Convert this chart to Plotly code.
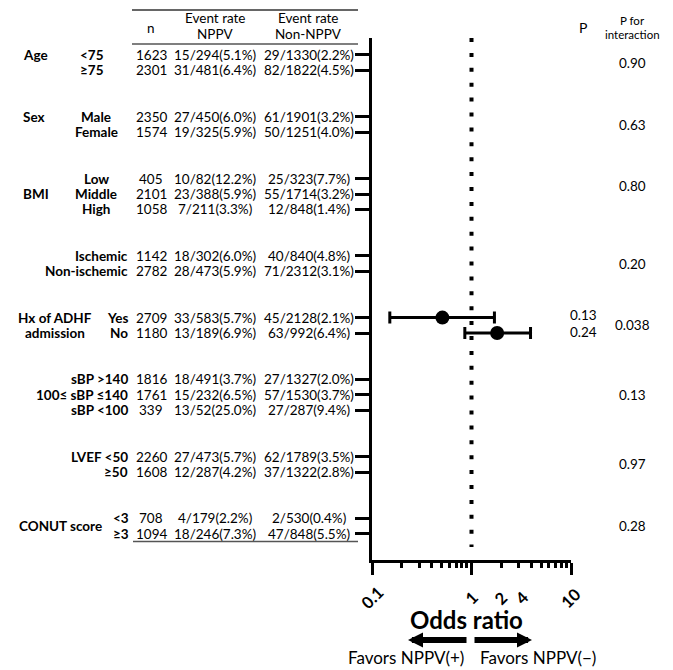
import numpy as np
import plotly.graph_objects as go

# ---------------- data ----------------
row_labels = ["<75", "≥75", "Male", "Female", "Low", "Middle", "High",
              "Ischemic", "Non-ischemic", "Yes", "No",
              "sBP >140", "100≤ sBP ≤140", "sBP <100", "LVEF <50", "≥50", "<3", "≥3"]
row_index = [0, 1, 4, 5, 8, 9, 10, 13, 14, 17, 18, 21, 22, 23, 26, 27, 30, 31]
n_vals = [1623, 2301, 2350, 1574, 405, 2101, 1058, 1142, 2782, 2709, 1180,
          1816, 1761, 339, 2260, 1608, 708, 1094]
rate_nppv = ["15/294(5.1%)", "31/481(6.4%)", "27/450(6.0%)", "19/325(5.9%)",
             "10/82(12.2%)", "23/388(5.9%)", "7/211(3.3%)", "18/302(6.0%)",
             "28/473(5.9%)", "33/583(5.7%)", "13/189(6.9%)", "18/491(3.7%)",
             "15/232(6.5%)", "13/52(25.0%)", "27/473(5.7%)", "12/287(4.2%)",
             "4/179(2.2%)", "18/246(7.3%)"]
rate_non = ["29/1330(2.2%)", "82/1822(4.5%)", "61/1901(3.2%)", "50/1251(4.0%)",
            "25/323(7.7%)", "55/1714(3.2%)", "12/848(1.4%)", "40/840(4.8%)",
            "71/2312(3.1%)", "45/2128(2.1%)", "63/992(6.4%)", "27/1327(2.0%)",
            "57/1530(3.7%)", "27/287(9.4%)", "62/1789(3.5%)", "37/1322(2.8%)",
            "2/530(0.4%)", "47/848(5.5%)"]
# odds ratios (only Hx of ADHF admission rows are drawn in the figure)
or_vals = [None] * 9 + [0.51, 1.81] + [None] * 7
ci_low = [None] * 9 + [0.151, 0.857] + [None] * 7
ci_high = [None] * 9 + [1.70, 3.92] + [None] * 7

group_labels = ["Age", "Sex", "BMI", "Hx of ADHF", "admission", "CONUT score"]
group_index = [0, 4, 9, 17, 18, 30.5]

p_labels = ["0.13", "0.24"]
p_index = [16.8, 17.95]
p_inter = ["0.90", "0.63", "0.80", "0.20", "0.038", "0.13", "0.97", "0.28"]
p_inter_index = [0.5, 4.5, 8.5, 13.5, 17.5, 22, 26.5, 30.5]

tick_labels = ["0.1", "1", "2", "4", "10"]
tick_label_at = [0.1, 1, 2, 3.2, 10]
major_ticks = [0.1, 1, 10]
minor_ticks = [0.2, 0.3, 0.4, 0.5, 0.6, 0.7, 0.8, 0.9, 2, 3, 4, 5, 6, 7, 8, 9]

# ---------------- layout helpers ----------------
W, H = 673, 670
L, R, T, B = 372, 571, 38, 560
def xp(px):
    return (px - L) / (R - L)
def yp(py):
    return (B - py) / (B - T)

FONT = "Lato"
black = "black"

# per-row label style (x pixel, anchor)
sub_style = ([(92, "center")] * 2 + [(96, "center")] * 5 +
             [(130, "right")] * 9 + [(111, "left")] * 2)
group_style = [(21, "left"), (21, "left"), (21, "left"),
               (55, "center"), (55, "center"), (17, "left")]

fig = go.Figure()

# reference line at OR = 1
fig.add_trace(go.Scatter(x=[1, 1], y=[-1.1, 31.85], mode="lines",
                         line=dict(color=black, width=4, dash="4px,10.9px"),
                         hoverinfo="skip", showlegend=False))

# odds ratios with CI
xs, ys, ep, em = [], [], [], []
for o, lo, hi, r in zip(or_vals, ci_low, ci_high, row_index):
    if o is None:
        continue
    xs.append(o); ys.append(r); ep.append(hi - o); em.append(o - lo)
fig.add_trace(go.Scatter(x=xs, y=ys, mode="markers",
                         marker=dict(color=black, size=14),
                         error_x=dict(type="data", array=ep, arrayminus=em,
                                      color=black, thickness=3, width=6),
                         showlegend=False))

ann = []
tf = dict(family=FONT, size=13.5, color=black)
tfb = dict(family=FONT, size=13.5, color=black, weight="bold")

for lab, r, n, a, b, (sx, sa) in zip(row_labels, row_index, n_vals, rate_nppv, rate_non, sub_style):
    ann.append(dict(text=lab, x=xp(sx), xref="paper", y=r, yref="y",
                    xanchor=sa, yanchor="middle", showarrow=False, font=tfb))
    ann.append(dict(text=str(n), x=xp(151), xref="paper", y=r, yref="y",
                    xanchor="center", yanchor="middle", showarrow=False, font=tf))
    ann.append(dict(text=a, x=xp(215), xref="paper", y=r, yref="y",
                    xanchor="center", yanchor="middle", showarrow=False, font=tf))
    ann.append(dict(text=b, x=xp(309), xref="paper", y=r, yref="y",
                    xanchor="center", yanchor="middle", showarrow=False, font=tf))

for lab, r, (gx, ga) in zip(group_labels, group_index, group_style):
    ann.append(dict(text=lab, x=xp(gx), xref="paper", y=r, yref="y",
                    xanchor=ga, yanchor="middle", showarrow=False, font=tfb))

for lab, r in zip(p_labels, p_index):
    ann.append(dict(text=lab, x=xp(583), xref="paper", y=r, yref="y",
                    xanchor="center", yanchor="middle", showarrow=False, font=tf))
for lab, r in zip(p_inter, p_inter_index):
    ann.append(dict(text=lab, x=xp(632), xref="paper", y=r, yref="y",
                    xanchor="center", yanchor="middle", showarrow=False, font=tf))

# header
hf = dict(family=FONT, size=13.5, color=black)
for text, x, y, f in [("n", 151, 28, hf), ("Event rate", 215, 18, hf), ("NPPV", 215, 34, hf),
                      ("Event rate", 308, 18, hf), ("Non-NPPV", 308, 34, hf),
                      ("P", 583, 27, dict(family=FONT, size=14, color=black)),
                      ("P for", 632, 21, dict(family=FONT, size=11.5, color=black)),
                      ("interaction", 632, 35, dict(family=FONT, size=11.5, color=black))]:
    ann.append(dict(text=text, x=xp(x), xref="paper", y=yp(y), yref="paper",
                    xanchor="center", yanchor="middle", showarrow=False, font=f))

# x tick labels (rotated)
for lab, v in zip(tick_labels, tick_label_at):
    ann.append(dict(text=lab, x=np.log10(v), xref="x", y=yp(598), yref="paper",
                    xanchor="center", yanchor="middle", textangle=-45, showarrow=False,
                    font=dict(family=FONT, size=16.5, color=black, weight="bold")))

ann.append(dict(text="Odds ratio", x=xp(466), xref="paper", y=yp(619), yref="paper",
                xanchor="center", yanchor="middle", showarrow=False,
                font=dict(family=FONT, size=24, color=black, weight="bold")))
ann.append(dict(text="Favors NPPV(+)", x=xp(406), xref="paper", y=yp(657), yref="paper",
                xanchor="center", yanchor="middle", showarrow=False,
                font=dict(family=FONT, size=17, color=black)))
ann.append(dict(text="Favors NPPV(−)", x=xp(538), xref="paper", y=yp(657), yref="paper",
                xanchor="center", yanchor="middle", showarrow=False,
                font=dict(family=FONT, size=17, color=black)))
# arrows
ann.append(dict(text="", x=xp(408), xref="paper", y=yp(640), yref="paper",
                ax=60, ay=0, axref="pixel", ayref="pixel", showarrow=True,
                arrowhead=2, arrowwidth=6, arrowsize=0.5, arrowcolor=black))
ann.append(dict(text="", x=xp(532), xref="paper", y=yp(640), yref="paper",
                ax=-59, ay=0, axref="pixel", ayref="pixel", showarrow=True,
                arrowhead=2, arrowwidth=6, arrowsize=0.5, arrowcolor=black))

shapes = []
for y0, x0, x1, col in [(10, 132, 358, "#333"), (44, 132, 358, "#555"), (541.5, 133, 358, "#555")]:
    shapes.append(dict(type="line", xref="paper", yref="paper",
                       x0=xp(x0), x1=xp(x1), y0=yp(y0), y1=yp(y0),
                       line=dict(color=col, width=1.5)))

fig.update_layout(
    width=W, height=H,
    margin=dict(l=L, r=W - R, t=T, b=H - B, autoexpand=False),
    paper_bgcolor="white", plot_bgcolor="white",
    annotations=ann, shapes=shapes, showlegend=False,
    xaxis=dict(type="log", range=[-1, 1], showgrid=False, zeroline=False,
               showline=True, linewidth=3, linecolor=black,
               tickvals=major_ticks, ticks="outside", ticklen=12, tickwidth=3,
               tickcolor=black, showticklabels=False,
               minor=dict(tickvals=minor_ticks, ticks="outside", ticklen=5,
                          tickwidth=3, tickcolor=black, showgrid=False)),
    yaxis=dict(range=[32.69, -1.10], autorange=False, showgrid=False, zeroline=False,
               showline=True, linewidth=3, linecolor=black,
               tickvals=row_index, ticks="outside", ticklen=14, tickwidth=3,
               tickcolor=black, showticklabels=False),
)

fig.write_html("out.html", config={"displayModeBar": False},
               post_script="document.body.style.margin='0px';")
